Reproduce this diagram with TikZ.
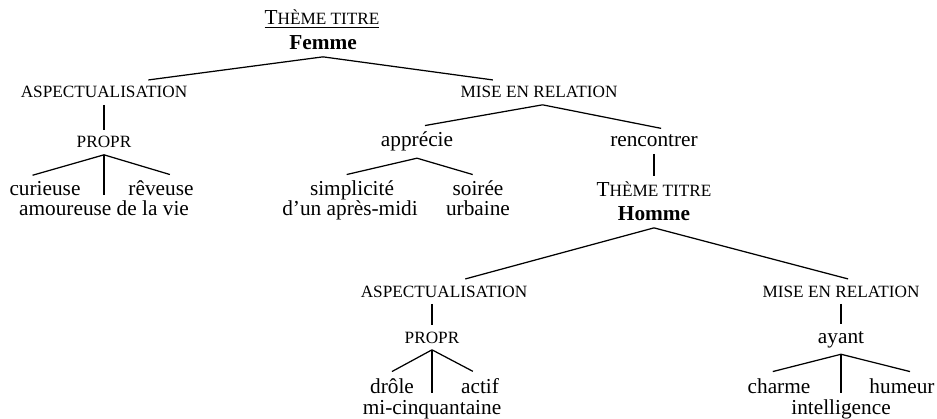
\documentclass[tikz,border=0pt]{standalone}
\usepackage{fontspec}
\setmainfont{Liberation Serif}
\newcommand{\smc}[1]{{\fontsize{9.7pt}{11pt}\selectfont #1}}

\begin{document}
\begin{tikzpicture}[x=0.5634pt, y=-0.5634pt, line width=0.7pt,
	lbl/.style={inner xsep=0pt, inner ysep=3.4pt, anchor=base, font=\fontsize{12pt}{14pt}\selectfont},
	cat/.style={lbl, font=\fontsize{9.7pt}{11pt}\selectfont}]
	\useasboundingbox (0,0) rectangle (937,419);

	\node[lbl] (titreF) at (322,25) {\underline{T\smc{HÈME TITRE}}};
	\node[lbl] (femme) at (323,50) {\textbf{Femme}};
	\node[cat] (aspF) at (104,98) {ASPECTUALISATION};
	\node[cat] (propF) at (104,148) {PROPR};
	\node[lbl] (curieuse) at (45,196) {curieuse};
	\node[lbl] (reveuse) at (161,196) {rêveuse};
	\node[lbl] (amoureuse) at (104,216) {amoureuse de la vie};
	\node[cat] (miseF) at (539,98) {MISE EN RELATION};
	\node[lbl] (apprecie) at (417,147) {apprécie};
	\node[lbl] (rencontrer) at (654,147) {rencontrer};
	\node[lbl] (simplicite) at (352,196) {simplicité};
	\node[lbl] (apresmidi) at (350,216) {d’un après-midi};
	\node[lbl] (soiree) at (478,196) {soirée};
	\node[lbl] (urbaine) at (478,216) {urbaine};

	\node[lbl] (titreH) at (654,197) {T\smc{HÈME TITRE}};
	\node[lbl] (homme) at (654,221) {\textbf{Homme}};
	\node[cat] (aspH) at (444,297) {ASPECTUALISATION};
	\node[cat] (propH) at (432,343) {PROPR};
	\node[lbl] (drole) at (392,393) {drôle};
	\node[lbl] (actif) at (480,393) {actif};
	\node[lbl] (cinquantaine) at (432,414) {mi-cinquantaine};
	\node[cat] (miseH) at (841,297) {MISE EN RELATION};
	\node[lbl] (ayant) at (841,343) {ayant};
	\node[lbl] (charme) at (779,393) {charme};
	\node[lbl] (humeur) at (902,393) {humeur};
	\node[lbl] (intelligence) at (841,414) {intelligence};

	\draw (femme.south) -- ([xshift=25pt]aspF.north);
	\draw (femme.south) -- ([xshift=-26pt]miseF.north);
	\draw (aspF.south) -- (propF.north);
	\draw (propF.south) -- ([xshift=-7pt]curieuse.north);
	\draw (propF.south) -- (amoureuse.north);
	\draw (propF.south) -- ([xshift=5pt]reveuse.north);
	\draw ([xshift=2pt]miseF.south) -- ([xshift=4.5pt]apprecie.north);
	\draw ([xshift=2pt]miseF.south) -- ([xshift=4pt]rencontrer.north);
	\draw (apprecie.south) -- ([xshift=-3pt]simplicite.north);
	\draw (apprecie.south) -- ([xshift=-3pt]soiree.north);
	\draw (rencontrer.south) -- (titreH.north);

	\draw (homme.south) -- ([xshift=12pt]aspH.north);
	\draw (homme.south) -- ([xshift=4pt]miseH.north);
	\draw (aspH.south -| propH.north) -- (propH.north);
	\draw (propH.south) -- (drole.north);
	\draw (propH.south) -- (cinquantaine.north);
	\draw (propH.south) -- ([xshift=-4pt]actif.north);
	\draw (miseH.south) -- (ayant.north);
	\draw (ayant.south) -- ([xshift=-3.5pt]charme.north);
	\draw (ayant.south) -- (intelligence.north);
	\draw (ayant.south) -- ([xshift=4.5pt]humeur.north);
\end{tikzpicture}
\end{document}
